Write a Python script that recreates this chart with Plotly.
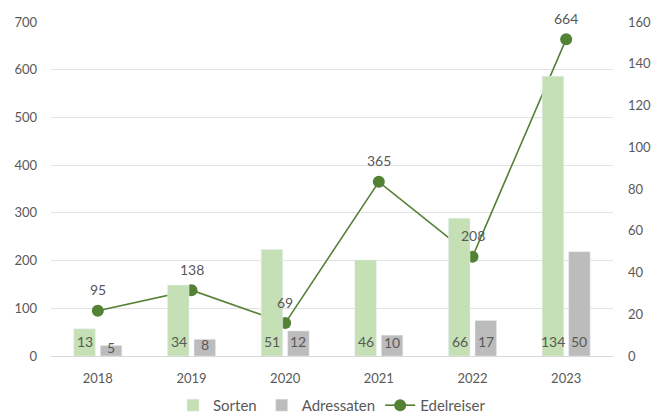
import plotly.graph_objects as go

years = ["2018", "2019", "2020", "2021", "2022", "2023"]
sorten = [13, 34, 51, 46, 66, 134]
adressaten = [5, 8, 12, 10, 17, 50]
edelreiser = [95, 138, 69, 365, 208, 664]

TXT = "#595959"
FONT = "Lato"

fig = go.Figure()
fig.add_trace(go.Bar(x=years, y=sorten, name="Sorten", marker_color="#C5E0B4",
                     yaxis="y2", offsetgroup="a"))
fig.add_trace(go.Bar(x=years, y=adressaten, name="Adressaten", marker_color="#BCBCBC",
                     yaxis="y2", offsetgroup="b"))
fig.add_trace(go.Scatter(x=years, y=edelreiser, name="Edelreiser", mode="lines+markers",
                         line=dict(color="#548235", width=1.6),
                         marker=dict(size=12, color="#548235"),
                         yaxis="y", cliponaxis=False))

# line value labels
for i, v in enumerate(edelreiser):
    fig.add_annotation(x=i, y=v, xref="x", yref="y", text=str(v), showarrow=False,
                       yanchor="middle", yshift=21,
                       font=dict(size=14, color=TXT, family=FONT))

# bar value labels at base
for i, yr in enumerate(years):
    for vals, xs in ((sorten, -13), (adressaten, 13)):
        v = vals[i]
        fig.add_annotation(x=i, y=0, xref="x", yref="y2", text=str(v), showarrow=False,
                           xshift=xs, yanchor="bottom", yshift=min(4, max(-2, v * 0.9 - 6)),
                           font=dict(size=14, color=TXT, family=FONT))

fig.update_layout(
    width=654, height=415,
    margin=dict(l=51, r=41, t=22, b=59, autoexpand=False),
    plot_bgcolor="white", paper_bgcolor="white",
    font=dict(family=FONT, size=13, color=TXT),
    barmode="group", bargap=0.434, bargroupgap=0.19,
    showlegend=True,
    legend=dict(orientation="h", x=0.5, xanchor="center", y=-0.148, yanchor="middle",
                font=dict(size=15, color=TXT, family=FONT), traceorder="normal",
                itemwidth=30),
    xaxis=dict(type="category", range=[-0.5, len(years) - 0.5], showgrid=False, showline=True,
               linecolor="#D9D9D9", linewidth=1,
               tickfont=dict(size=13, color=TXT), ticks="", ticklabelstandoff=10),
    yaxis=dict(range=[0, 700], dtick=100, showgrid=True, gridcolor="#E3E3E3", gridwidth=1,
               zeroline=False, tickfont=dict(size=13, color=TXT), ticklabelstandoff=13),
    yaxis2=dict(range=[0, 160], dtick=20, overlaying="y", side="right", showgrid=False,
                zeroline=False, tickfont=dict(size=13, color=TXT), ticklabelstandoff=14),
)

fig.write_html("out.html")
